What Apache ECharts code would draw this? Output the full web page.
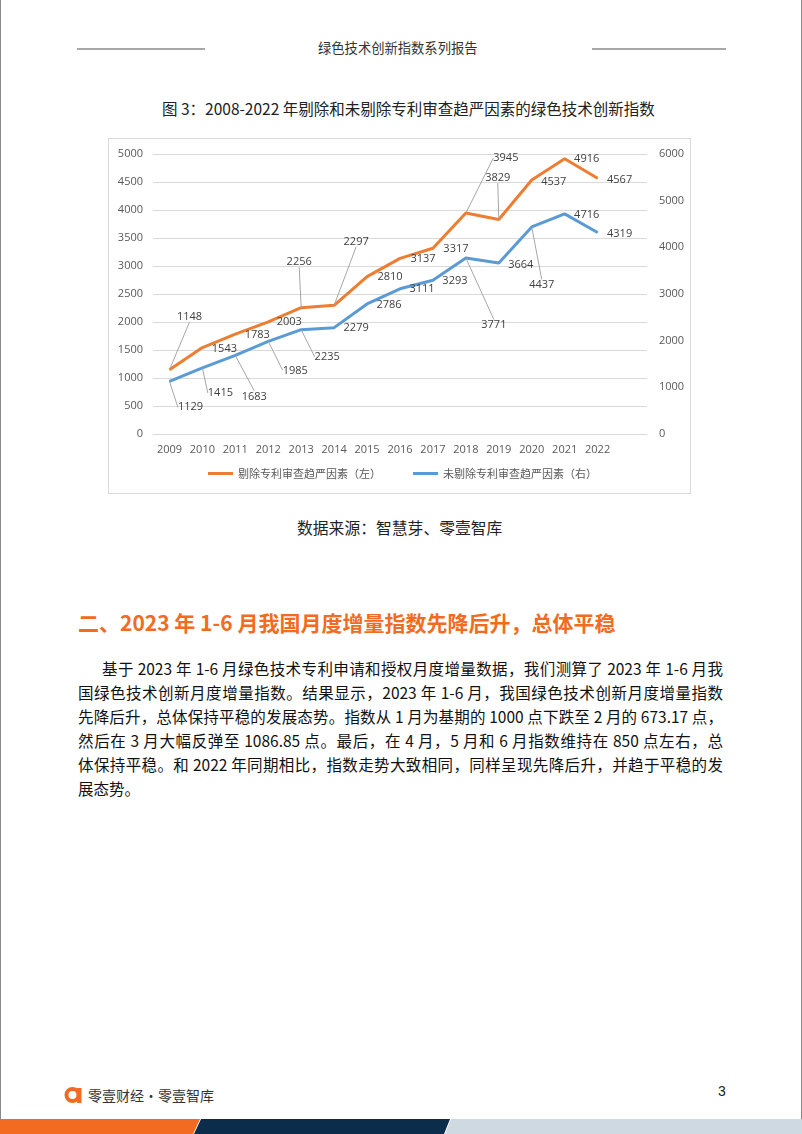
<!DOCTYPE html>
<html>
<head>
<meta charset="utf-8">
<script src="https://cdn.jsdelivr.net/npm/echarts@6/dist/echarts.min.js"></script>
<style>
  html, body { margin:0; padding:0; background:#fff; }
  body { width:802px; height:1134px; position:relative; overflow:hidden; font-family:"Noto Sans CJK SC", sans-serif; }
  .edgeL { position:absolute; left:0; top:0; width:1px; height:1134px; background:#8a8a8a; }
  .edgeR { position:absolute; right:0; top:0; width:1px; height:1134px; background:#8a8a8a; }
  .hline { position:absolute; height:1.5px; background:#a8a8a8; top:48px; }
  .abs { position:absolute; white-space:nowrap; }
  #chart { position:absolute; left:108px; top:138px; width:583px; height:356px; border:1px solid #d9d9d9; box-sizing:border-box; }
  .para { position:absolute; left:78px; width:645px; font-size:15.5px; color:#111; }
  .para div { height:24px; line-height:24px; text-align:justify; text-align-last:justify; white-space:nowrap; }
  .para div.last { text-align-last:left; }
</style>
</head>
<body>
<div class="edgeL"></div><div class="edgeR"></div>
<div class="hline" style="left:77px;width:128px;"></div>
<div class="hline" style="left:592px;width:134px;"></div>
<div class="abs" style="left:318px;top:38px;font-size:13.3px;color:#333;">绿色技术创新指数系列报告</div>
<div class="abs" style="left:162px;top:97px;font-size:15.5px;color:#222;">图 3：2008-2022 年剔除和未剔除专利审查趋严因素的绿色技术创新指数</div>
<div id="chart"></div>
<div class="abs" style="left:297px;top:516px;font-size:15.8px;color:#222;">数据来源：智慧芽、零壹智库</div>
<div class="abs" style="left:78px;top:607px;font-size:21px;font-weight:bold;color:#f26b21;">二、2023 年 1-6 月我国月度增量指数先降后升，总体平稳</div>
<div class="para" style="top:656px;">
  <div style="padding-left:24px;">基于 2023 年 1-6 月绿色技术专利申请和授权月度增量数据，我们测算了 2023 年 1-6 月我</div>
  <div>国绿色技术创新月度增量指数。结果显示，2023 年 1-6 月，我国绿色技术创新月度增量指数</div>
  <div>先降后升，总体保持平稳的发展态势。指数从 1 月为基期的 1000 点下跌至 2 月的 673.17 点，</div>
  <div>然后在 3 月大幅反弹至 1086.85 点。最后，在 4 月，5 月和 6 月指数维持在 850 点左右，总</div>
  <div>体保持平稳。和 2022 年同期相比，指数走势大致相同，同样呈现先降后升，并趋于平稳的发</div>
  <div class="last">展态势。</div>
</div>
<svg class="abs" style="left:64px;top:1085px;" width="22" height="20" viewBox="0 0 22 20">
  <circle cx="8.5" cy="10" r="6" fill="none" stroke="#f26b21" stroke-width="4"/>
  <rect x="13" y="3" width="4.5" height="15" fill="#f26b21"/>
</svg>
<div class="abs" style="left:88px;top:1085px;font-size:14px;color:#333;">零壹财经·零壹智库</div>
<div class="abs" style="left:718px;top:1083px;font-size:14px;color:#222;font-family:'Liberation Sans',sans-serif;">3</div>
<svg class="abs" style="left:0;top:1119px;" width="802" height="15" viewBox="0 0 802 15">
  <polygon points="0,0 200,0 193,15 0,15" fill="#f26b21"/>
  <polygon points="201,0 450,0 444,15 194,15" fill="#0c2c4b"/>
  <polygon points="451,0 802,0 802,15 445,15" fill="#cfd9e1"/>
</svg>
<script>
// ---- data ----
const years = ['2009','2010','2011','2012','2013','2014','2015','2016','2017','2018','2019','2020','2021','2022'];
const adjusted = [1148,1543,1783,2003,2256,2297,2810,3137,3317,3945,3829,4537,4916,4567];
const unadjusted = [1129,1415,1683,1985,2235,2279,2786,3111,3293,3771,3664,4437,4716,4319];
const seriesNames = ['剔除专利审查趋严因素（左）','未剔除专利审查趋严因素（右）'];

// ---- label placement (style only) ----
const offA = [[20,-53],[22,1],[22,1],[21,0],[-2,-46],[22,-64],[23,0],[23,1],[23,1],[40,-55],[-1,-42],[22,2],[22,0],[22,2]];
const offB = [[21,26],[18,25],[19,41],[27,29],[26,27],[22,0],[22,1],[22,0],[22,1],[28,67],[22,2],[10,58],[22,1],[22,1]];

const chart = echarts.init(document.getElementById('chart'), null, {renderer:'canvas'});
const numFont = "'Open Sans', sans-serif";
function items(vals, offs){
  return vals.map((v,i)=>({value:v, labelLine:{show: Math.abs(offs[i][1])>10}}));
}
function mkSeries(name, vals, offs, color, axis){
  return {
    name: name, type:'line', yAxisIndex: axis, data: items(vals, offs),
    symbol:'circle', symbolSize:1, showSymbol:true,
    lineStyle:{color:color, width:3}, itemStyle:{color:color},
    label:{show:true, position:'inside', align:'center', verticalAlign:'middle', color:'#404040', fontSize:11, fontFamily:numFont},
    labelLine:{show:true, lineStyle:{color:'#a6a6a6', width:1}},
    labelLayout: function(p){ const o = offs[p.dataIndex]; return {dx:o[0], dy:o[1]}; },
    emphasis:{disabled:true}, z: axis===0?3:2
  };
}
const plain = v => String(v);
chart.setOption({
  animation:false,
  grid:{left:44, right:43, top:15, bottom:59, containLabel:false, outerBoundsMode:'none'},
  legend:{
    left:99, top:329, padding:0, itemWidth:25, itemHeight:3, itemGap:32, icon:'rect',
    textStyle:{color:'#595959', fontSize:11, fontFamily:"'Noto Sans CJK SC', sans-serif"},
    data: seriesNames
  },
  xAxis:{
    type:'category', data: years.concat(['']), boundaryGap:true,
    axisLine:{show:true, lineStyle:{color:'#d9d9d9'}}, axisTick:{show:false},
    axisLabel:{color:'#595959', fontSize:11, fontFamily:numFont, margin:10, interval:0}
  },
  yAxis:[
    {type:'value', min:0, max:5000, interval:500,
     axisLine:{show:false}, axisTick:{show:false},
     splitLine:{lineStyle:{color:'#d9d9d9', width:1}},
     axisLabel:{color:'#595959', fontSize:11, fontFamily:numFont, margin:10, formatter:plain}},
    {type:'value', min:0, max:6000, interval:1000,
     axisLine:{show:false}, axisTick:{show:false}, splitLine:{show:false},
     axisLabel:{color:'#595959', fontSize:11, fontFamily:numFont, margin:12, formatter:plain}}
  ],
  series:[
    mkSeries(seriesNames[0], adjusted, offA, '#ed7d31', 0),
    mkSeries(seriesNames[1], unadjusted, offB, '#5b9bd5', 1)
  ]
});
</script>
</body>
</html>
